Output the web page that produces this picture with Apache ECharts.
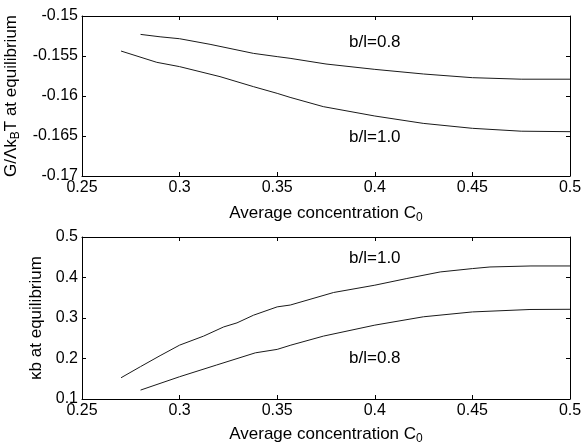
<!DOCTYPE html>
<html>
<head>
<meta charset="utf-8">
<script src="https://cdn.jsdelivr.net/npm/echarts@6/dist/echarts.min.js"></script>
<style>
html,body{margin:0;padding:0;background:#fff;}
#main{width:583px;height:446px;}
</style>
</head>
<body>
<div id="main"></div>
<script>
// ---- data ----
const xTickLabels = ['0.25', '0.3', '0.35', '0.4', '0.45', '0.5'];
const topYTickLabels = ['-0.17', '-0.165', '-0.16', '-0.155', '-0.15'];
const botYTickLabels = ['0.1', '0.2', '0.3', '0.4', '0.5'];

// Top panel: G/(Lambda kB T) at equilibrium
const topC08 = [0.28, 0.29, 0.30, 0.3156, 0.3378, 0.35, 0.3566, 0.375, 0.40, 0.425, 0.45, 0.475, 0.50];
const topG08 = [-0.1523, -0.1526, -0.15284, -0.15354, -0.15467, -0.15508, -0.15529, -0.1560, -0.15667, -0.15725, -0.15771, -0.1579, -0.1579];
const topC10 = [0.27, 0.2883, 0.30, 0.3207, 0.3378, 0.35, 0.3566, 0.3736, 0.40, 0.4248, 0.45, 0.475, 0.50];
const topG10 = [-0.15438, -0.15579, -0.15633, -0.15758, -0.15883, -0.15967, -0.16017, -0.16133, -0.1625, -0.16342, -0.16404, -0.1644, -0.16446];

// Bottom panel: kappa b at equilibrium
const botC10 = [0.27, 0.28, 0.29, 0.30, 0.3123, 0.3226, 0.3294, 0.3379, 0.35, 0.3567, 0.3789, 0.40, 0.4164, 0.4335, 0.45, 0.459, 0.48, 0.50];
const botK10 = [0.1525, 0.180, 0.207, 0.233, 0.2553, 0.278, 0.288, 0.307, 0.3275, 0.332, 0.363, 0.381, 0.3975, 0.4137, 0.422, 0.426, 0.4285, 0.4285];
const botC08 = [0.28, 0.30, 0.319, 0.3388, 0.35, 0.357, 0.3737, 0.40, 0.4249, 0.45, 0.4795, 0.50];
const botK08 = [0.122, 0.155, 0.184, 0.214, 0.2225, 0.233, 0.2553, 0.2824, 0.303, 0.315, 0.321, 0.3215];

// Annotations [label, C, value]
const topNotes = [['b/l=0.8', 0.4, -0.15325], ['b/l=1.0', 0.4, -0.16512]];
const botNotes = [['b/l=1.0', 0.4, 0.448], ['b/l=0.8', 0.4, 0.201]];

// ---- chart ----
const FONT = '"Liberation Sans", Arial, Helvetica, sans-serif';
const TICK_FS = 16, TITLE_FS = 17, NOTE_FS = 17;
const pairs = (xs, ys) => xs.map((x, i) => [x, ys[i]]);
const labelFrom = (labels, min, step) => (v) => labels[Math.round((v - min) / step)];
const richName = {
  a: { fontFamily: FONT, fontSize: TITLE_FS, color: '#000', lineHeight: 19, verticalAlign: 'top' },
  s: { fontFamily: FONT, fontSize: 12, color: '#000', lineHeight: 12, padding: [10, 0, 0, 0], verticalAlign: 'bottom' }
};

function xAxes(grid, name, gap) {
  const base = {
    gridIndex: grid, type: 'value', min: 0.25, max: 0.5, interval: 0.05,
    axisLine: { show: true, lineStyle: { color: '#000', width: 1 } },
    axisTick: { show: true, inside: true, length: 4, lineStyle: { color: '#000' } },
    splitLine: { show: false }
  };
  return [
    Object.assign({}, base, {
      position: 'bottom',
      axisLabel: { show: true, color: '#000', fontFamily: FONT, fontSize: TICK_FS, margin: 4,
        formatter: labelFrom(xTickLabels, 0.25, 0.05) },
      name: name, nameLocation: 'middle', nameGap: gap,
      nameTextStyle: { color: '#000', fontFamily: FONT, fontSize: TITLE_FS, rich: richName }
    }),
    Object.assign({}, base, { position: 'top', axisLabel: { show: false } })
  ];
}

function yAxes(grid, min, max, step, labels, name, gap) {
  const base = {
    gridIndex: grid, type: 'value', min: min, max: max, interval: step,
    axisLine: { show: true, onZero: false, lineStyle: { color: '#000', width: 1 } },
    axisTick: { show: true, inside: true, length: 4, lineStyle: { color: '#000' } },
    splitLine: { show: false }
  };
  return [
    Object.assign({}, base, {
      position: 'left',
      axisLabel: { show: true, color: '#000', fontFamily: FONT, fontSize: TICK_FS, margin: 4,
        formatter: labelFrom(labels, min, step) },
      name: name, nameLocation: 'middle', nameGap: gap, nameRotate: 90,
      nameTextStyle: { color: '#000', fontFamily: FONT, fontSize: TITLE_FS, rich: richName }
    }),
    Object.assign({}, base, { position: 'right', axisLabel: { show: false } })
  ];
}

function lineSeries(xi, yi, data, notes) {
  return {
    type: 'line', xAxisIndex: xi, yAxisIndex: yi, data: data,
    showSymbol: false, symbol: 'none', smooth: false, silent: true,
    lineStyle: { color: '#1a1a1a', width: 1 },
    markPoint: notes ? {
      symbol: 'circle', symbolSize: 0, silent: true,
      label: { show: true, position: 'inside', color: '#000', fontFamily: FONT, fontSize: NOTE_FS,
        formatter: (p) => p.name },
      data: notes.map(n => ({ name: n[0], coord: [n[1], n[2]] }))
    } : undefined
  };
}

const chart = echarts.init(document.getElementById('main'), null, { renderer: 'canvas' });
chart.setOption({
  backgroundColor: '#fff',
  animation: false,
  grid: [
    { left: 82, top: 16, width: 488, height: 160, containLabel: false, outerBoundsMode: 'none' },
    { left: 82, top: 237, width: 488, height: 162, containLabel: false, outerBoundsMode: 'none' }
  ],
  xAxis: [].concat(
    xAxes(0, '{a|Average concentration C}{s|0}', 29),
    xAxes(1, '{a|Average concentration C}{s|0}', 27)
  ),
  yAxis: [].concat(
    yAxes(0, -0.17, -0.15, 0.005, topYTickLabels, '{a|G/Λk}{s|B}{a|T at equilibrium}', 54),
    yAxes(1, 0.1, 0.5, 0.1, botYTickLabels, '{a|κb at equilibrium}', 22)
  ),
  series: [
    lineSeries(0, 0, pairs(topC08, topG08), topNotes),
    lineSeries(0, 0, pairs(topC10, topG10), null),
    lineSeries(2, 2, pairs(botC10, botK10), botNotes),
    lineSeries(2, 2, pairs(botC08, botK08), null)
  ]
});
</script>
</body>
</html>
